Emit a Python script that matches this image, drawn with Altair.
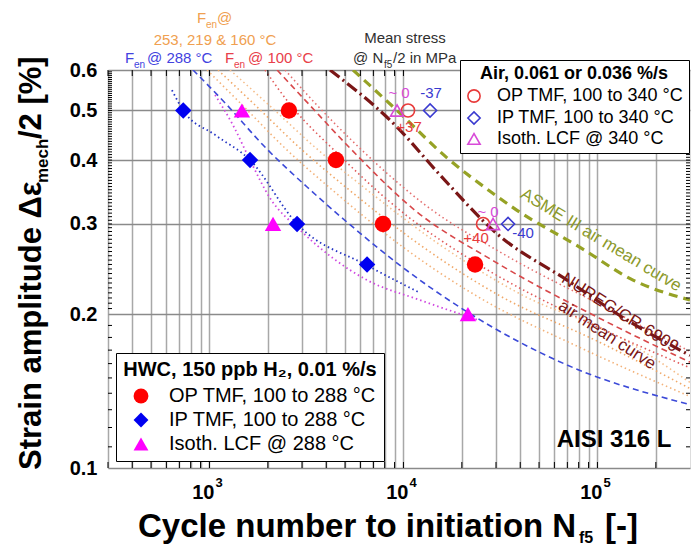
import altair as alt
import pandas as pd

FONT = "Liberation Sans"

# ---------------- measured data (N_f5 [cycles], strain amplitude [%]) ----------------
hwc_types = ["OP TMF, 100 to 288 °C", "IP TMF, 100 to 288 °C", "Isoth. LCF @ 288 °C"]
hwc_op_N = [2570, 4490, 7850, 23400]
hwc_op_eps = [0.5, 0.4, 0.3, 0.25]
hwc_ip_N = [733, 1619, 2829, 6494]
hwc_ip_eps = [0.5, 0.4, 0.3, 0.25]
hwc_lcf_N = [1470, 2127, 21500]
hwc_lcf_eps = [0.5, 0.3, 0.2]

air_types = ["OP TMF, 100 to 340 °C", "IP TMF, 100 to 340 °C", "Isoth. LCF @ 340 °C"]
air_op_N = [10560, 25720]
air_op_eps = [0.5, 0.3]
air_ip_N = [13720, 34610]
air_ip_eps = [0.5, 0.3]
air_lcf_N = [9270, 28960]
air_lcf_eps = [0.5, 0.3]

# ---------------- curves ----------------
asme_N = [5499, 9269, 16780, 29660, 38500, 81350, 152600, 300000]
asme_eps = [0.6, 0.5, 0.404, 0.342, 0.319, 0.270, 0.233, 0.213]
nureg_N = [4184, 9269, 15440, 30380, 69710, 147200, 300000]
nureg_eps = [0.6, 0.464, 0.374, 0.287, 0.233, 0.193, 0.166]
fen288_N = [823, 1232, 1889, 3301, 5306, 9605, 21270, 69710, 300000]
fen288_eps = [0.6, 0.5125, 0.428, 0.350, 0.299, 0.249, 0.202, 0.159, 0.133]
fen253_N = [972, 1526, 2453, 4440, 9605, 24820, 81350, 300000]
fen253_eps = [0.6, 0.506, 0.422, 0.346, 0.273, 0.215, 0.172, 0.138]
fen219_N = [1107, 1780, 2931, 5434, 12180, 31470, 103100, 300000]
fen219_eps = [0.6, 0.506, 0.422, 0.346, 0.273, 0.217, 0.176, 0.143]
fen160_N = [1277, 2102, 3544, 6730, 15440, 39900, 130800, 300000]
fen160_eps = [0.6, 0.506, 0.422, 0.346, 0.273, 0.219, 0.180, 0.147]
fen100_N = [2231, 3111, 5306, 11470, 29660, 103100, 300000]
fen100_eps = [0.6, 0.524, 0.422, 0.319, 0.253, 0.196, 0.161]
opfit1_N = [1934, 2572, 4546, 9605, 24820, 81350, 300000]
opfit1_eps = [0.6, 0.517, 0.413, 0.319, 0.249, 0.196, 0.157]
opfit2_N = [2453, 3502, 6117, 12920, 33400, 116100, 300000]
opfit2_eps = [0.6, 0.517, 0.418, 0.327, 0.261, 0.204, 0.169]
ipfit_N = [641, 733, 1069, 1619, 2829, 6494, 11890]
ipfit_eps = [0.548, 0.5, 0.448, 0.4, 0.3, 0.249, 0.221]
lcffit_N = [1069, 1323, 1619, 2053, 2931, 6494, 12180, 23950]
lcffit_eps = [0.536, 0.468, 0.4, 0.337, 0.292, 0.233, 0.213, 0.195]

# ---------------- annotations ----------------
ms_mag_text = ["~ 0", "~ 0"]
ms_mag_N = [9491, 27300]
ms_mag_eps = [0.541, 0.317]
ms_blue_text = ["-37", "-40"]
ms_blue_N = [13880, 41360]
ms_blue_eps = [0.541, 0.288]
ms_red_text = ["+37", "+40"]
ms_red_N = [10690, 23670]
ms_red_eps = [0.464, 0.282]

x_grid_vals = [300, 400, 500, 600, 700, 800, 900, 1000, 2000, 3000, 4000, 5000, 6000,
               7000, 8000, 9000, 10000, 20000, 30000, 40000, 50000, 60000, 70000,
               80000, 90000, 100000, 200000]
x_label_N = [1000, 10000, 100000]
x_label_base = ["10", "10", "10"]
x_label_exp = ["3", "4", "5"]
y_label_vals = [0.1, 0.2, 0.3, 0.4, 0.5, 0.6]
y_minor_ticks = [round(0.1 + 0.01 * i, 3) for i in range(1, 10)] + \
                [round(0.2 + 0.005 * i, 3) for i in range(1, 80)]

W, H = 582, 398

X = alt.X("N:Q", scale=alt.Scale(type="log", domain=[300, 300000], nice=False),
          axis=alt.Axis(values=x_grid_vals, labels=False, ticks=False, domain=False,
                        grid=True, gridColor="#a8a8a8", gridWidth=1.5, title=None))
Y = alt.Y("eps:Q", scale=alt.Scale(type="log", domain=[0.1, 0.6], nice=False),
          axis=alt.Axis(values=y_label_vals, format=".1f", ticks=False, domain=False,
                        grid=True, gridColor="#8a8a8a", gridWidth=1.5, title=None,
                        labelFontSize=20, labelFontWeight="bold", labelFont=FONT,
                        labelColor="black", labelPadding=11))


def curve(N, eps, color, dash, width=1.6):
    df = pd.DataFrame({"N": N, "eps": eps})
    return alt.Chart(df).mark_line(color=color, strokeDash=dash, strokeWidth=width,
                                   clip=True, interpolate="monotone").encode(x=X, y=Y)


def dtext(texts, N, eps, size, color, weight="normal", angle=0):
    df = pd.DataFrame({"t": texts, "N": N, "eps": eps})
    return alt.Chart(df).mark_text(font=FONT, fontSize=size, color=color, fontWeight=weight,
                                   angle=angle, align="center", baseline="middle").encode(
        x=X, y=Y, text="t:N")


def ptext(s, x, y, size, color="black", weight="normal", align="left", angle=0):
    df = pd.DataFrame({"t": [s]})
    return alt.Chart(df).mark_text(font=FONT, fontSize=size, color=color, fontWeight=weight,
                                   align=align, baseline="alphabetic", angle=angle).encode(
        x=alt.value(x), y=alt.value(y), text="t:N")


DOT = [1.5, 3]
DASH = [6, 4]
layers = [
    curve(fen288_N, fen288_eps, "#3c4ad8", DASH),
    curve(fen253_N, fen253_eps, "#f3b27a", DOT),
    curve(fen219_N, fen219_eps, "#f0a868", DOT),
    curve(fen160_N, fen160_eps, "#f5be8c", DOT),
    curve(opfit1_N, opfit1_eps, "#e05a5a", DOT),
    curve(opfit2_N, opfit2_eps, "#e47070", DOT),
    curve(fen100_N, fen100_eps, "#d8484a", DASH),
    curve(ipfit_N, ipfit_eps, "#2434c4", DOT, 1.8),
    curve(lcffit_N, lcffit_eps, "#d048e0", DOT, 1.8),
    curve(nureg_N, nureg_eps, "#7a1616", [12, 4, 2, 4], 3.2),
    curve(asme_N, asme_eps, "#96a225", [9, 6], 3.2),
]

# ticks on the frame (inward)
df_yt = pd.DataFrame({"eps": y_minor_ticks})
df_xt = pd.DataFrame({"N": x_grid_vals})
layers += [
    alt.Chart(df_yt).mark_rule(color="black", strokeWidth=1).encode(
        y=Y, x=alt.value(0), x2=alt.value(4)),
    alt.Chart(df_yt).mark_rule(color="black", strokeWidth=1).encode(
        y=Y, x=alt.value(W - 4), x2=alt.value(W)),
    alt.Chart(df_xt).mark_rule(color="black", strokeWidth=1).encode(
        x=X, y=alt.value(0), y2=alt.value(6)),
    alt.Chart(df_xt).mark_rule(color="black", strokeWidth=1).encode(
        x=X, y=alt.value(H - 6), y2=alt.value(H)),
]

# measured points
df_hwc = pd.concat([
    pd.DataFrame({"N": hwc_op_N, "eps": hwc_op_eps, "type": hwc_types[0]}),
    pd.DataFrame({"N": hwc_ip_N, "eps": hwc_ip_eps, "type": hwc_types[1]}),
    pd.DataFrame({"N": hwc_lcf_N, "eps": hwc_lcf_eps, "type": hwc_types[2]}),
])
df_air = pd.concat([
    pd.DataFrame({"N": air_op_N, "eps": air_op_eps, "type": air_types[0]}),
    pd.DataFrame({"N": air_ip_N, "eps": air_ip_eps, "type": air_types[1]}),
    pd.DataFrame({"N": air_lcf_N, "eps": air_lcf_eps, "type": air_types[2]}),
])

hwc_legend = alt.Legend(title="HWC, 150 ppb H₂, 0.01 %/s", orient="none", legendX=8, legendY=283,
                        fillColor="white", strokeColor="black", padding=7,
                        titleFont=FONT, titleFontSize=20, titleFontWeight="bold", titleColor="black",
                        titleAnchor="middle", titlePadding=6, titleLimit=500,
                        labelFont=FONT, labelFontSize=20, labelColor="black", labelLimit=500,
                        labelOffset=18, symbolOffset=6, symbolSize=220, rowPadding=4)
air_legend = alt.Legend(title="Air, 0.061 or 0.036 %/s", orient="none", legendX=352, legendY=-10,
                        fillColor="white", strokeColor="black", padding=5,
                        titleFont=FONT, titleFontSize=18, titleFontWeight="bold", titleColor="black",
                        titleAnchor="middle", titlePadding=4, titleLimit=500,
                        labelFont=FONT, labelFontSize=18, labelColor="black", labelLimit=500,
                        labelOffset=14, symbolSize=150, symbolStrokeWidth=1.6, rowPadding=2)

hwc_pts = alt.Chart(df_hwc).mark_point(filled=True, size=270, opacity=1).encode(
    x=X, y=Y,
    color=alt.Color("type:N", scale=alt.Scale(domain=hwc_types, range=["#ff0000", "#0000f0", "#ff00ff"]),
                    legend=hwc_legend),
    shape=alt.Shape("type:N", scale=alt.Scale(domain=hwc_types, range=["circle", "diamond", "triangle-up"]),
                    legend=hwc_legend),
)
air_pts = alt.Chart(df_air).mark_point(filled=False, size=170, strokeWidth=1.6, opacity=1).encode(
    x=X, y=Y,
    color=alt.Color("type:N", scale=alt.Scale(domain=air_types, range=["#e83a3a", "#3a3ad0", "#d84ad8"]),
                    legend=air_legend),
    shape=alt.Shape("type:N", scale=alt.Scale(domain=air_types, range=["circle", "diamond", "triangle-up"]),
                    legend=air_legend),
)
layers += [hwc_pts, air_pts]

# annotations inside plot
layers += [
    dtext(ms_mag_text, ms_mag_N, ms_mag_eps, 15, "#d84ad8"),
    dtext(ms_blue_text, ms_blue_N, ms_blue_eps, 15, "#3a3ad0"),
    dtext(ms_red_text, ms_red_N, ms_red_eps, 15, "#e83a3a"),
    dtext(["ASME III air mean curve"], [104400], [0.279], 17, "#8c9a2c", angle=31),
    dtext(["NUREG/CR-6909"], [130800], [0.201], 17, "#7a1616", angle=32),
    dtext(["air mean curve"], [112100], [0.182], 17, "#7a1616", angle=33),
    dtext(["AISI 316 L"], [121800], [0.1134], 24, "black", weight="bold"),
]

# x tick labels 10^n
df_xl = pd.DataFrame({"N": x_label_N, "b": x_label_base, "e": x_label_exp})
layers += [
    alt.Chart(df_xl).mark_text(font=FONT, fontSize=20, fontWeight="bold", color="black",
                               align="right", baseline="alphabetic", dx=5).encode(
        x=X, y=alt.value(429), text="b:N"),
    alt.Chart(df_xl).mark_text(font=FONT, fontSize=13, fontWeight="bold", color="black",
                               align="left", baseline="alphabetic", dx=6).encode(
        x=X, y=alt.value(417), text="e:N"),
]

# labels above the plot
ORANGE, BLUE, RED = "#f0a050", "#4242e0", "#e8404a"
layers += [
    ptext("F", 89, -47, 15, ORANGE), ptext("en", 98, -42, 10, ORANGE), ptext("@", 109, -47, 15, ORANGE),
    ptext("253, 219 & 160 °C", 107, -25, 15, ORANGE, align="center"),
    ptext("F", 17, -7, 15, BLUE), ptext("en", 26, -2, 10, BLUE), ptext("@ 288 °C", 39, -7, 15, BLUE),
    ptext("F", 117, -7, 15, RED), ptext("en", 126, -2, 10, RED), ptext("@ 100 °C", 140, -7, 15, RED),
    ptext("Mean stress", 297, -27, 15, "#303030", align="center"),
    ptext("@ N", 245, -7, 15, "#303030"), ptext("f5", 276, -2, 10, "#303030"),
    ptext("/2 in MPa", 285, -7, 15, "#303030"),
]

# axis titles (with subscripts)
layers += [
    ptext("Cycle number to initiation N", 30, 467, 33, weight="bold"),
    ptext("f5", 471, 473, 16, weight="bold"),
    ptext("[-]", 497, 467, 33, weight="bold"),
    ptext("Strain amplitude Δε", -67, 400, 31, weight="bold", angle=270),
    ptext("mech", -60, 113, 17, weight="bold", angle=270),
    ptext("/2 [%]", -67, 69, 31, weight="bold", angle=270),
]

chart = alt.layer(*layers).resolve_scale(color="independent", shape="independent").properties(
    width=W, height=H,
    padding={"left": 108, "top": 70, "right": 8, "bottom": 80},
    autosize=alt.AutoSizeParams(type="none"),
    background="white",
).configure_view(stroke="black", strokeWidth=1.5).configure(font=FONT)

chart.save("out.html", embed_options={"renderer": "svg", "actions": False})
